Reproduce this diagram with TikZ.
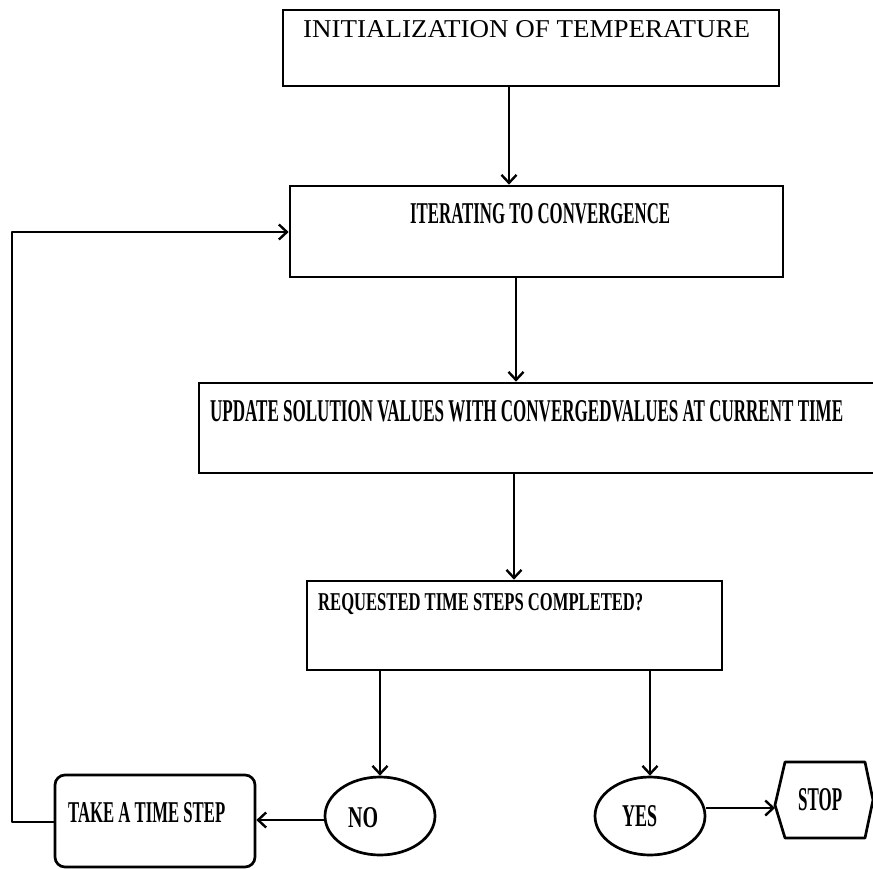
\documentclass[tikz,border=0pt]{standalone}
\usepackage{fontspec}
\setmainfont{Liberation Serif}
\usepackage{graphicx}
\usetikzlibrary{arrows.meta,shapes.geometric}
\tikzset{
  boxshape/.style={draw, line width=2.7pt, inner sep=0pt, rectangle},
  ovalshape/.style={draw, line width=2.7pt, inner sep=0pt, ellipse},
  txt/.style={inner sep=0pt, anchor=base west},
  arr/.style={line width=2.4pt, -{Straight Barb[length=8pt,width=15pt,line width=2.4pt]}},
}
\newcommand{\fitbold}[3]{\resizebox{#1pt}{#2pt}{\bfseries #3}}
\newcommand{\fitreg}[3]{\resizebox{#1pt}{#2pt}{#3}}
\begin{document}
\begin{tikzpicture}[x=1pt,y=-1pt]
\useasboundingbox (0,0) rectangle (873,868);
\clip (0,0) rectangle (873,868);
% boxes
\node[boxshape, minimum width=496pt, minimum height=76pt] (top) at (531,48) {};
\node[boxshape, minimum width=493pt, minimum height=91pt] (iter) at (536.5,231.5) {};
\node[boxshape, minimum width=701pt, minimum height=90pt] (upd) at (549.5,428) {};
\node[boxshape, minimum width=415pt, minimum height=89pt] (req) at (514.5,625.5) {};
\node[boxshape, rounded corners=10pt, minimum width=200pt, minimum height=92pt] (take) at (155,821) {};
\node[ovalshape, minimum width=110pt, minimum height=78pt] (no) at (380,816) {};
\node[ovalshape, minimum width=110pt, minimum height=78pt] (yes) at (650,816) {};
\draw[line width=2.7pt, line join=round] (785,762) -- (865,762) -- (873,800) -- (865,838) -- (785,838) -- (775,805) -- cycle;
\coordinate (stopL) at (775,808);
% texts
\node[txt] (ttop) at (303,37) {\fitreg{447}{17}{INITIALIZATION OF TEMPERATURE}};
\node[txt] (titer) at (410,223) {\fitbold{260}{20}{ITERATING TO CONVERGENCE}};
\node[txt] (tupd) at (210,421) {\fitbold{633}{21}{UPDATE SOLUTION VALUES WITH CONVERGEDVALUES AT CURRENT TIME}};
\node[txt] (treq) at (318,610) {\fitbold{325}{17}{REQUESTED TIME STEPS COMPLETED?}};
\node[txt] (ttake) at (68,822) {\fitbold{157}{20}{TAKE A TIME STEP}};
\node[txt] (tno) at (348,827) {\fitbold{30}{20}{NO}};
\node[txt] (tyes) at (622,826) {\fitbold{35}{21}{YES}};
\node[txt] (tstop) at (798,810) {\fitbold{44}{22}{STOP}};
% connector x positions
\coordinate (c1) at (509,0);
\coordinate (c2) at (516,0);
\coordinate (c3) at (514,0);
\coordinate (loopB) at (12,822);
\coordinate (loopT) at (12,232);
% connectors
\draw[arr] (top.south -| c1) -- (iter.north -| c1);
\draw[arr] (iter.south -| c2) -- (upd.north -| c2);
\draw[arr] (upd.south -| c3) -- (req.north -| c3);
\draw[arr] (req.south -| no.north) -- (no.north);
\draw[arr] (req.south -| yes.north) -- (yes.north);
\draw[arr] (no.west |- 0,820) -- (take.east |- 0,820);
\draw[arr] (yes.east |- stopL) -- (stopL);
\draw[arr, line join=round] (take.west |- loopB) -- (loopB) -- (loopT) -- (iter.west |- loopT);
\end{tikzpicture}
\end{document}
